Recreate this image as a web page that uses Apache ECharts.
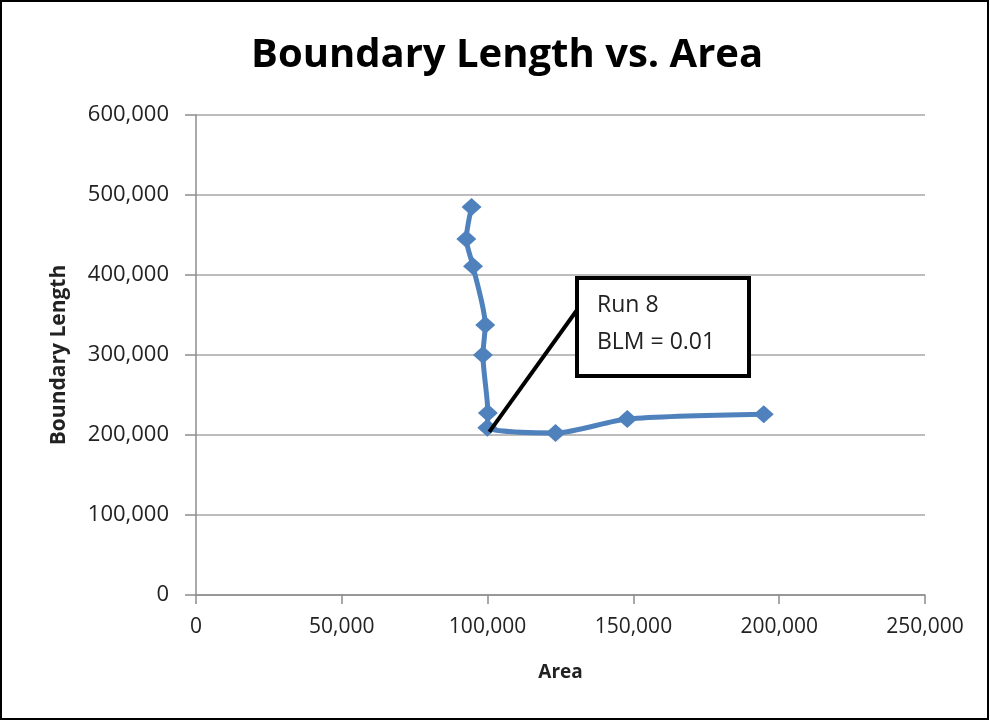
<!DOCTYPE html>
<html><head><meta charset="utf-8">
<script src="https://cdn.jsdelivr.net/npm/echarts@6/dist/echarts.min.js"></script>
<style>html,body{margin:0;padding:0;background:#fff}#c{width:990px;height:721px}</style>
</head><body><div id="c"></div>
<script>
const areaValues = [94500, 92700, 95000, 99200, 98400, 100100, 99900, 123300, 147900, 194700];
const boundaryValues = [485000, 445000, 411000, 337500, 300000, 227500, 209000, 202500, 220000, 226000];
const xTicks = [0, 50000, 100000, 150000, 200000, 250000];
const yTicks = [0, 100000, 200000, 300000, 400000, 500000, 600000];
const calloutLines = ['Run 8', 'BLM = 0.01'];
const calloutIndex = 6;

const fmt = v => v.toLocaleString('en-US');
const chart = echarts.init(document.getElementById('c'));
const font = '"Open Sans",sans-serif';
chart.setOption({
  animation: false,
  backgroundColor: '#fff',
  title: { text: 'Boundary Length vs. Area', left: 246, top: 31,
    textStyle: { fontFamily: font, fontWeight: 'bold', fontSize: 40, color: '#000' } },
  grid: { left: 196, right: 65, top: 115, bottom: 126 },
  xAxis: { type: 'value', min: xTicks[0], max: xTicks[xTicks.length-1], interval: 50000,
    name: 'Area', nameLocation: 'middle', nameGap: 68,
    nameTextStyle: { fontFamily: font, fontWeight: 'bold', fontSize: 19, color: '#222' },
    axisLine: { show: true, lineStyle: { color: '#8c8c8c', width: 1.5 } },
    axisTick: { show: true, length: 9, lineStyle: { color: '#8c8c8c', width: 1.5 } },
    splitLine: { show: false },
    axisLabel: { formatter: fmt, margin: 22, fontFamily: font, fontSize: 21, color: '#222' } },
  yAxis: { type: 'value', min: yTicks[0], max: yTicks[yTicks.length-1], interval: 100000,
    name: 'Boundary Length', nameLocation: 'middle', nameGap: 126,
    nameTextStyle: { fontFamily: font, fontWeight: 'bold', fontSize: 21, color: '#222' },
    axisLine: { show: true, lineStyle: { color: '#8c8c8c', width: 1.5 } },
    axisTick: { show: true, length: 11, lineStyle: { color: '#8c8c8c', width: 1.5 } },
    splitLine: { show: true, lineStyle: { color: '#a6a6a6', width: 1.5 } },
    axisLabel: { formatter: fmt, margin: 27, fontFamily: font, fontSize: 22, color: '#222' } },
  series: [{
    type: 'line', smooth: 0.25,
    data: areaValues.map((x, i) => [x, boundaryValues[i]]),
    symbol: 'diamond', symbolSize: [20, 18],
    lineStyle: { color: '#4f81bd', width: 5 },
    itemStyle: { color: '#4f81bd' },
    z: 2
  }]
});
const p = chart.convertToPixel({ gridIndex: 0 }, [areaValues[calloutIndex], boundaryValues[calloutIndex]]);
chart.setOption({
  graphic: [
    { type: 'rect', shape: { x: 1, y: 1, width: 987, height: 718 }, style: { fill: 'none', stroke: '#000', lineWidth: 2 }, silent: true },
    { type: 'line', shape: { x1: p[0] + 2, y1: p[1] + 4, x2: 577, y2: 310 }, style: { stroke: '#000', lineWidth: 4 }, z: 10 },
    { type: 'rect', shape: { x: 577, y: 278, width: 172, height: 98 }, style: { fill: '#fff', stroke: '#000', lineWidth: 4 }, z: 11 },
    { type: 'text', x: 597, y: 287, style: { text: calloutLines.join('\n'), lineHeight: 37, fontFamily: font, fontSize: 23, fill: '#222' }, z: 12 }
  ]
});
</script></body></html>
